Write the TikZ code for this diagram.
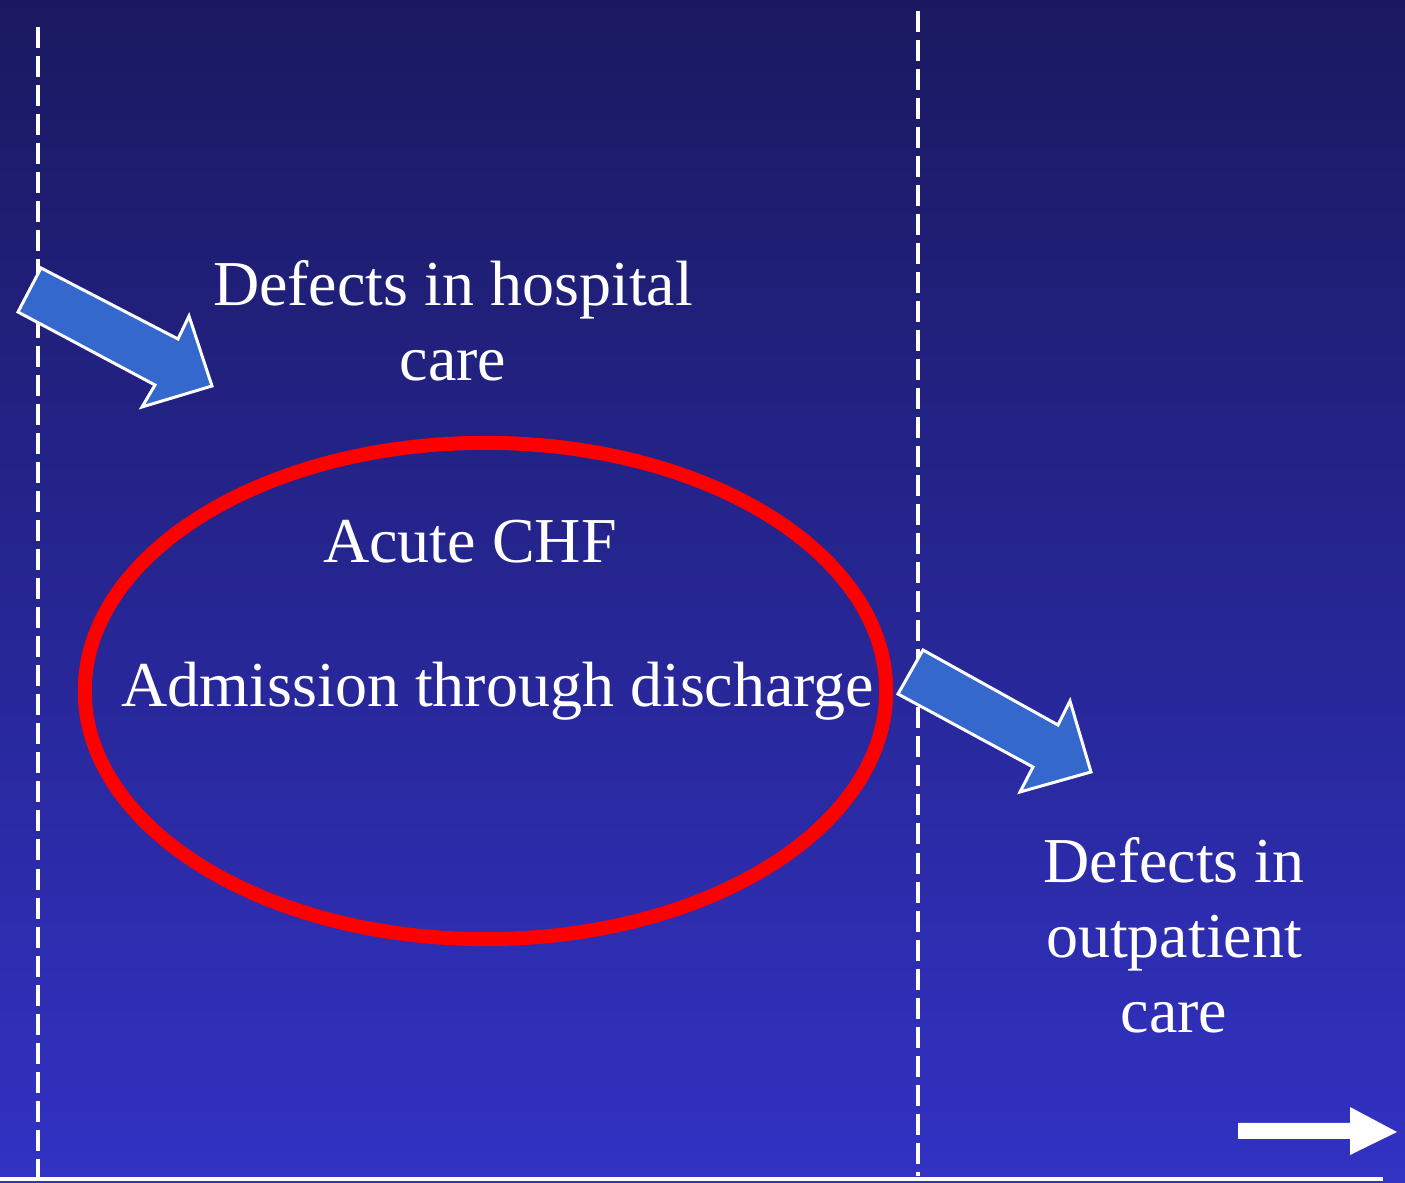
\documentclass[tikz,border=0pt]{standalone}
\usepackage{fontspec}
\setmainfont{Liberation Serif}
\begin{document}
\definecolor{bgtop}{RGB}{26,25,96}
\definecolor{bgbot}{RGB}{50,50,196}
\definecolor{blockblue}{RGB}{52,104,204}
\definecolor{ringred}{RGB}{255,0,0}
\begin{tikzpicture}[x=0.01cm,y=-0.01cm,
  label/.style={text=white,inner sep=0pt,anchor=base,
    font=\fontsize{18.2}{21.3}\selectfont},
  divider/.style={white,line width=0.95pt,dash pattern=on 0.21cm off 0.08cm},
  blockarrow/.style={fill=blockblue,draw=white,line width=0.85pt,line join=miter},
  ring/.style={draw=ringred,line width=0.14cm}]
  \useasboundingbox (0,0) rectangle (1405,1183);
  \shade[top color=bgtop,bottom color=bgbot] (0,0) rectangle (1405,1183);

  % phase dividers and time axis
  \draw[divider] (38,27) -- (38,1183);
  \draw[divider] (918,11) -- (918,1176);
  \draw[white,line width=0.95pt] (0,1179) -- (1383,1179);
  \fill[white] (1238,1123) -- (1350,1123) -- (1350,1107) -- (1397,1132)
    -- (1350,1155) -- (1350,1139) -- (1238,1139) -- cycle;

  % hospital stay
  \draw[ring] (485.5,691) ellipse [x radius=4.005cm, y radius=2.48cm];
  \node[label] (acute) at (470,563) {Acute CHF};
  \node[label] (stay) at (498,707) {Admission through discharge};

  % inflow of hospital defects
  \draw[blockarrow] (41,268) -- (178,339) -- (189,316) -- (212,386)
    -- (142,407) -- (155,385) -- (18,312) -- cycle;
  \node[label] (hosp1) at (453,306) {Defects in hospital};
  \node[label] (hosp2) at (453,381) {care};

  % outflow to outpatient defects
  \draw[blockarrow] (923,650) -- (1058,725) -- (1070,701) -- (1091,772)
    -- (1020,792) -- (1033,767) -- (898,694) -- cycle;
  \node[label] (out1) at (1174,883) {Defects in};
  \node[label] (out2) at (1174,958) {outpatient};
  \node[label] (out3) at (1174,1033) {care};
\end{tikzpicture}
\end{document}
